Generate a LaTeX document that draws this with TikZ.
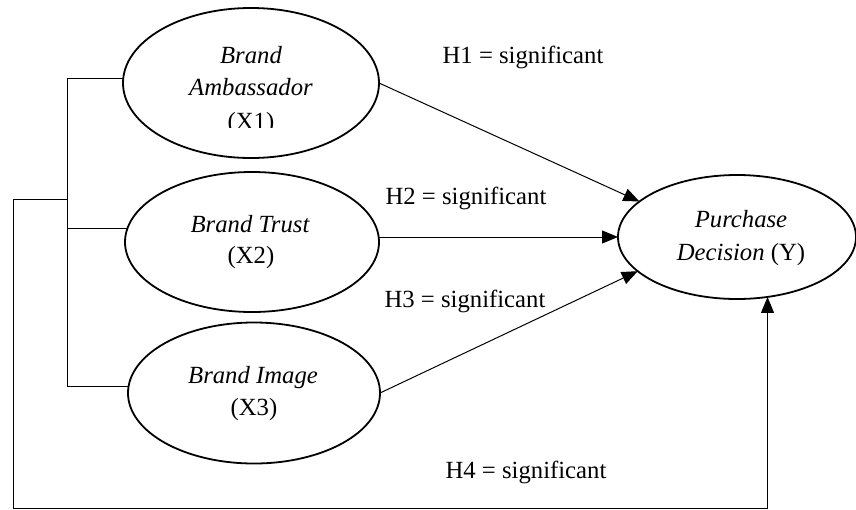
\documentclass[tikz,border=0pt]{standalone}
\usepackage{fontspec}
\setmainfont{Liberation Serif}
\usetikzlibrary{shapes.geometric,arrows.meta}
\begin{document}
\begin{tikzpicture}[x=1pt,y=-1pt,
  font=\fontsize{24.7}{31}\selectfont,
  construct/.style={ellipse,draw,line width=1.8pt,inner sep=0pt,outer sep=0pt},
  lbl/.style={anchor=base,inner sep=0pt},
  link/.style={line width=1pt},
  arr/.style={link,-{Triangle[length=16pt,width=13pt]}}]
\useasboundingbox (0,0) rectangle (856,509);

% latent constructs
\node[construct,minimum width=256pt,minimum height=150pt] (x1) at (251,83) {};
\node[construct,minimum width=254pt,minimum height=140pt] (x2) at (252,242) {};
\node[construct,minimum width=252pt,minimum height=141pt] (x3) at (254,393) {};
\node[construct,minimum width=238pt,minimum height=124pt] (pd) at (737,237) {};

% construct names
\node[lbl] (x1a) at (251,63) {\itshape Brand};
\node[lbl] (x1b) at (251,95) {\itshape Ambassador};
\begin{scope}
  \clip (150,100) rectangle (350,127);
  \node[lbl] (x1c) at (251,129) {(X1)};
\end{scope}
\node[lbl] (x2a) at (250,232) {\itshape Brand Trust};
\node[lbl] (x2b) at (251,263) {(X2)};
\node[lbl] (x3a) at (253,383) {\itshape Brand Image};
\node[lbl] (x3b) at (254,415) {(X3)};
\node[lbl] (pda) at (741,227) {\itshape Purchase};
\node[lbl] (pdb) at (741,260) {\itshape Decision\/ \upshape(Y)};

% hypothesis labels
\node[lbl] (h1) at (523,63) {H1 = significant};
\node[lbl] (h2) at (466,204) {H2 = significant};
\node[lbl] (h3) at (465,307) {H3 = significant};
\node[lbl] (h4) at (526,478) {H4 = significant};

% partial effects
\draw[arr] (x1.east) -- (pd.160);
\draw[arr] (x2.east |- pd.west) -- (pd.west);
\draw[arr] (x3.east) -- (pd.199);

% joint effect bracket
\coordinate (bar) at (67,0);
\coordinate (tap) at (67,199);
\coordinate (outer) at (13,508);
\draw[link] (x1.178) -- (x1.178 -| bar) -- (x3.177 -| bar) -- (x3.177);
\draw[link] (x2.174 -| bar) -- (x2.174);
\draw[arr] (tap) -| (outer) -| (pd.297);
\end{tikzpicture}
\end{document}
